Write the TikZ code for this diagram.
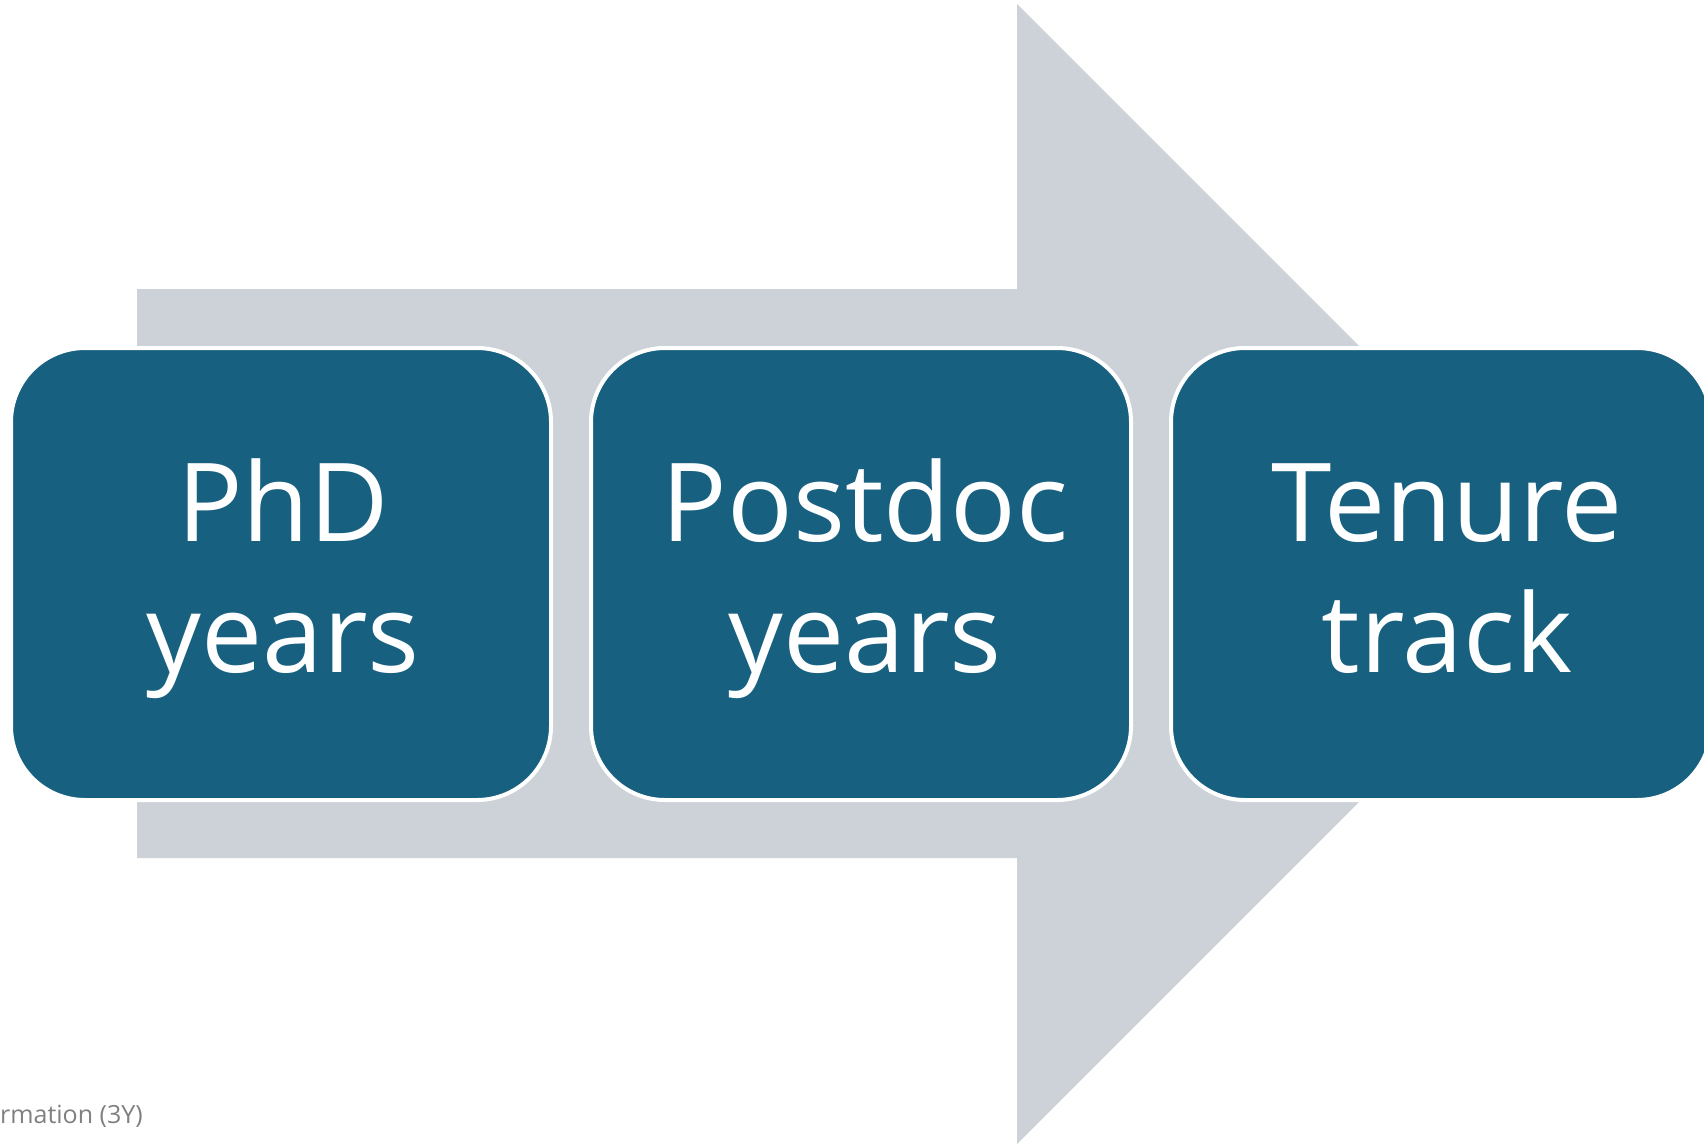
\documentclass[tikz,border=0pt]{standalone}
\usepackage{fontspec}
\newfontfamily\boxfont{Open Sans}
\definecolor{boxblue}{RGB}{23,96,128}
\definecolor{arrowgray}{RGB}{205,210,217}
\definecolor{notegray}{RGB}{128,128,128}
\tikzset{
  stagebox/.style={rounded corners=74pt, fill=boxblue, draw=white, line width=4pt,
    minimum width=540pt, minimum height=452pt, inner sep=0pt},
  stagetext/.style={align=center, text=white, inner sep=0pt,
    font=\boxfont\fontsize{109}{131}\selectfont},
  notetext/.style={text=notegray, font=\boxfont\fontsize{25}{30}\selectfont, inner sep=0pt}
}
\begin{document}
\begin{tikzpicture}[x=1pt,y=-1pt]
\useasboundingbox (0,0) rectangle (1704,1143);
\clip (0,0) rectangle (1704,1143);
\fill[arrowgray] (137,289) -- (1017,289) -- (1017,4) -- (1587,574) -- (1017,1144) -- (1017,858) -- (137,858) -- cycle;
\node[stagebox] (phd) at (281,574) {};
\node[stagebox] (postdoc) at (861,574) {};
\node[stagebox] (tenure) at (1441,574) {};
\node[stagetext] (phdtext) at (283,581) {\strut PhD\\\strut years};
\node[stagetext] (postdoctext) at (865,581) {\strut Postdoc\\\strut years};
\node[stagetext] (tenuretext) at (1447,581) {\strut Tenure\\\strut track};
\node[notetext, anchor=base west] (note) at (0,1123) {rmation (3Y)};
\end{tikzpicture}
\end{document}
